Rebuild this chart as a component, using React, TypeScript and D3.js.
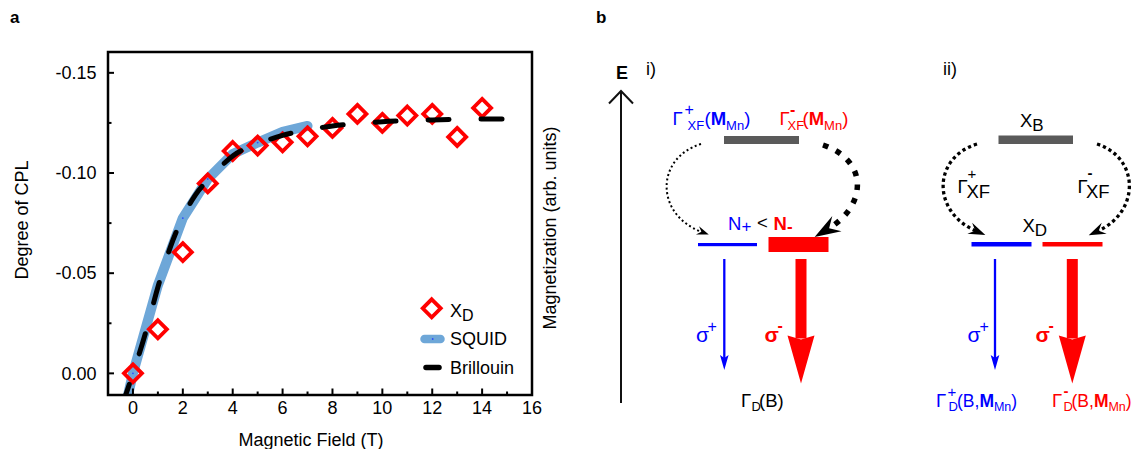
import React from 'react';
import * as d3 from 'd3';

// ---- panel a data ----
const fieldTicks = [0, 2, 4, 6, 8, 10, 12, 14, 16];
const fieldMinor = [1, 3, 5, 7, 9, 11, 13, 15];
const cplTicks = [-0.15, -0.1, -0.05, 0];
const cplMinor = [-0.125, -0.075, -0.025];

const xdField = [0, 1, 2, 3, 4, 5, 6, 7, 8, 9, 10, 11, 12, 13, 14];
const xdCpl = [0.0, -0.022, -0.0605, -0.0948, -0.111, -0.1137, -0.1153, -0.1183, -0.1225, -0.1295, -0.125, -0.1287, -0.1295, -0.118, -0.1325];

const squidField = [-0.5, 0, 1, 2, 3, 4, 5, 6, 7];
const squidCpl = [0.0275, 0.0, -0.044, -0.0775, -0.097, -0.1095, -0.1152, -0.1205, -0.1235];

const brillouinField = [-0.35, 0, 0.5, 1, 1.5, 2, 2.5, 3, 3.5, 4, 5, 6, 7, 8, 9, 10, 11, 12, 13, 14, 15];
const brillouinCpl = [0.013, 0.0, -0.02, -0.043, -0.063, -0.078, -0.089, -0.0965, -0.103, -0.1085, -0.1145, -0.1188, -0.1215, -0.1235, -0.1247, -0.1256, -0.1261, -0.1265, -0.1268, -0.127, -0.127];

const FONT = 'Liberation Sans, Arial, Helvetica, sans-serif';
const BLUE = '#0000ff';
const RED = '#ff0000';
const SQUID_COLOR = '#6ea7d8';

type Pt = [number, number];

// dotted curved arrow with a barbed head
function curveArrow(p0: Pt, p1: Pt, p2: Pt, p3: Pt, headLen: number, headHalf: number) {
  const p = d3.path();
  p.moveTo(p0[0], p0[1]);
  p.bezierCurveTo(p1[0], p1[1], p2[0], p2[1], p3[0], p3[1]);
  const dx = p3[0] - p2[0], dy = p3[1] - p2[1];
  const len = Math.hypot(dx, dy);
  const ux = dx / len, uy = dy / len, nx = -uy, ny = ux;
  const tip: Pt = [p3[0] + ux * headLen * 0.6, p3[1] + uy * headLen * 0.6];
  const bx = tip[0] - ux * headLen, by = tip[1] - uy * headLen;
  const notch: Pt = [tip[0] - ux * headLen * 0.65, tip[1] - uy * headLen * 0.65];
  const head = [tip, [bx + nx * headHalf, by + ny * headHalf], notch, [bx - nx * headHalf, by - ny * headHalf]]
    .map(q => q.join(',')).join(' ');
  return { d: p.toString(), head };
}

function DownArrow({ x, y0, y1, color, fat }: { x: number; y0: number; y1: number; color: string; fat: boolean }) {
  if (!fat) {
    return (
      <g>
        <line x1={x} x2={x} y1={y0} y2={y1 - 12} stroke={color} strokeWidth={2.3} />
        <polygon points={`${x},${y1} ${x - 4.3},${y1 - 15} ${x},${y1 - 12} ${x + 4.3},${y1 - 15}`} fill={color} />
      </g>
    );
  }
  const hb = y1 - 48;
  return (
    <g>
      <rect x={x - 5.5} y={y0} width={11} height={hb - y0 + 3} fill={color} />
      <polygon points={`${x},${y1} ${x - 13.5},${hb} ${x},${hb + 4} ${x + 13.5},${hb}`} fill={color} />
    </g>
  );
}

const fmtTick = (t: number) => d3.format('.2f')(t).replace('−', '-');

function PanelA() {
  const left = 108, right = 532, top = 52, bottom = 395;
  const x = d3.scaleLinear().domain([-1, 16]).range([left, right]);
  const y = d3.scaleLinear().domain([0.0108, -0.1604]).range([bottom, top]);

  const squid = squidField.map((f, i) => [f, squidCpl[i]] as Pt);
  const brill = brillouinField.map((f, i) => [f, brillouinCpl[i]] as Pt);
  const xd = xdField.map((f, i) => [f, xdCpl[i]] as Pt);

  const squidLine = d3.line<Pt>().x(d => x(d[0])).y(d => y(d[1]));
  const brillLine = d3.line<Pt>().x(d => x(d[0])).y(d => y(d[1])).curve(d3.curveMonotoneX);
  const dia = (cx: number, cy: number, r: number) => `M${cx},${cy - r}L${cx + r},${cy}L${cx},${cy + r}L${cx - r},${cy}Z`;

  return (
    <g fontFamily={FONT}>
      <defs>
        <clipPath id="plotClip">
          <rect x={left} y={top} width={right - left} height={bottom - top} />
        </clipPath>
      </defs>
      <text x={10} y={23} fontSize={17} fontWeight="bold">a</text>

      <g clipPath="url(#plotClip)">
        <path d={squidLine(squid) ?? ''} fill="none" stroke={SQUID_COLOR} strokeWidth={10} strokeLinecap="round" strokeLinejoin="round" />
        {squid.map((d, i) => (
          <circle key={i} cx={x(d[0])} cy={y(d[1])} r={0.9} fill="#2a4cff" />
        ))}
        {xd.map((d, i) => (
          <path key={i} d={dia(x(d[0]), y(d[1]), 9)} fill="none" stroke={RED} strokeWidth={3.8} />
        ))}
        <path d={brillLine(brill) ?? ''} fill="none" stroke="#000" strokeWidth={5} strokeLinecap="round"
          strokeDasharray="21 32" strokeDashoffset={5} />
      </g>

      {/* frame */}
      <rect x={left} y={top} width={right - left} height={bottom - top} fill="none" stroke="#000" strokeWidth={2.5} />

      {/* x ticks (inward) */}
      {fieldTicks.map(t => (
        <g key={t}>
          <line x1={x(t)} x2={x(t)} y1={bottom} y2={bottom - 6.5} stroke="#000" strokeWidth={2} />
          <text x={x(t)} y={414} fontSize={18} textAnchor="middle">{t}</text>
        </g>
      ))}
      {fieldMinor.map(t => (
        <line key={t} x1={x(t)} x2={x(t)} y1={bottom} y2={bottom - 3.5} stroke="#000" strokeWidth={2} />
      ))}

      {/* y ticks (inward) */}
      {cplTicks.map(t => (
        <g key={t}>
          <line x1={left} x2={left + 6} y1={y(t)} y2={y(t)} stroke="#000" strokeWidth={2} />
          <text x={96.5} y={y(t) + 6.3} fontSize={18} textAnchor="end">{fmtTick(t)}</text>
        </g>
      ))}
      {cplMinor.map(t => (
        <line key={t} x1={left} x2={left + 3.5} y1={y(t)} y2={y(t)} stroke="#000" strokeWidth={2} />
      ))}

      <text transform="translate(28,220) rotate(-90)" fontSize={18} textAnchor="middle">Degree of CPL</text>
      <text x={311} y={446} fontSize={18} textAnchor="middle">Magnetic Field (T)</text>
      <text transform="translate(556,228) rotate(-90)" fontSize={18} textAnchor="middle">Magnetization (arb. units)</text>

      {/* legend */}
      <path d={dia(431.7, 308.3, 9)} fill="none" stroke={RED} strokeWidth={3.8} />
      <text x={450} y={316.5} fontSize={18}>X<tspan fontSize={16} dy={4}>D</tspan></text>
      <line x1={424.5} x2={440.5} y1={339} y2={339} stroke={SQUID_COLOR} strokeWidth={8.5} strokeLinecap="round" />
      <circle cx={432.7} cy={339} r={0.9} fill="#2a4cff" />
      <text x={450} y={345} fontSize={18}>SQUID</text>
      <line x1={426} x2={439} y1={367.5} y2={367.5} stroke="#000" strokeWidth={5.5} strokeLinecap="round" />
      <text x={450} y={373.5} fontSize={18}>Brillouin</text>
    </g>
  );
}

function PanelB() {
  const l1 = curveArrow([701, 144], [655, 158], [655, 215], [702, 232], 12, 4.5);
  const r1 = curveArrow([823, 145], [868, 160], [868, 205], [828, 229], 26, 9);
  const l2 = curveArrow([977, 144], [932, 158], [932, 212], [976, 231], 17, 6);
  const r2 = curveArrow([1097, 144], [1140, 158], [1140, 212], [1098, 231], 17, 6);

  return (
    <g fontFamily={FONT}>
      <text x={596} y={23} fontSize={17} fontWeight="bold">b</text>

      {/* energy axis */}
      <text x={616} y={79} fontSize={18} fontWeight="bold">E</text>
      <line x1={621} x2={621} y1={403} y2={91} stroke="#111" strokeWidth={2} />
      <polyline points="609,103.5 621,91 633,103.5" fill="none" stroke="#111" strokeWidth={2} />

      {/* ---- i) ---- */}
      <text x={646} y={75} fontSize={18}>i)</text>
      <rect x={724} y={136} width={75} height={8} fill="#5a5a5a" />
      <g fill={BLUE}>
        <text x={672.5} y={125} fontSize={18.5}>Γ</text>
        <text x={684.5} y={115} fontSize={16}>+</text>
        <text x={687.5} y={130} fontSize={13}>XF</text>
        <text x={704.5} y={125} fontSize={18.5}>(<tspan fontWeight="bold">M</tspan><tspan fontSize={13} dy={4.5}>Mn</tspan><tspan dy={-4.5}>)</tspan></text>
      </g>
      <g fill={RED}>
        <text x={779.5} y={125} fontSize={18.5}>Γ</text>
        <text x={790} y={115} fontSize={16} fontWeight="bold">-</text>
        <text x={787.5} y={130} fontSize={13}>XF</text>
        <text x={802.5} y={125} fontSize={18.5}>(<tspan fontWeight="bold">M</tspan><tspan fontSize={13} dy={4.5}>Mn</tspan><tspan dy={-4.5}>)</tspan></text>
      </g>

      <path d={l1.d} fill="none" stroke="#000" strokeWidth={2} strokeDasharray="2 2.6" />
      <polygon points={l1.head} fill="#000" />
      <path d={r1.d} fill="none" stroke="#000" strokeWidth={5.5} strokeDasharray="5.5 8.5" />
      <polygon points={r1.head} fill="#000" />

      <text x={728} y={230} fontSize={18.5} fill={BLUE}>N<tspan fontSize={17} dy={2}>+</tspan></text>
      <text x={757} y={229} fontSize={18.5} fill="#000">&lt;</text>
      <text x={773.5} y={230} fontSize={18.5} fill={RED} fontWeight="bold">N<tspan fontSize={17} dy={2}>-</tspan></text>

      <rect x={698} y={243} width={59} height={3.2} fill={BLUE} />
      <rect x={768.5} y={237} width={60} height={15} fill={RED} />

      <DownArrow x={724.3} y0={259} y1={370} color={BLUE} fat={false} />
      <DownArrow x={801} y0={259} y1={383.5} color={RED} fat={true} />

      <text x={696} y={341.5} fontSize={21} fill={BLUE}>σ</text>
      <text x={707.5} y={332} fontSize={16} fill={BLUE}>+</text>
      <text x={764.5} y={341.5} fontSize={21} fill={RED} fontWeight="bold">σ</text>
      <text x={777.5} y={331} fontSize={16} fill={RED} fontWeight="bold">-</text>

      <text x={741} y={406.5} fontSize={18.5}>Γ</text>
      <text x={751.5} y={410.5} fontSize={13}>D</text>
      <text x={759} y={406.5} fontSize={18.5}>(B)</text>

      {/* ---- ii) ---- */}
      <text x={943} y={75} fontSize={18}>ii)</text>
      <text x={1020} y={126.5} fontSize={18.5}>X<tspan fontSize={17} dy={4}>B</tspan></text>
      <rect x={998.5} y={135.5} width={74.5} height={8.5} fill="#5a5a5a" />

      <path d={l2.d} fill="none" stroke="#000" strokeWidth={3.3} strokeDasharray="3.3 3" />
      <polygon points={l2.head} fill="#000" />
      <path d={r2.d} fill="none" stroke="#000" strokeWidth={3.3} strokeDasharray="3.3 3" />
      <polygon points={r2.head} fill="#000" />

      <text x={957.5} y={193} fontSize={18.5}>Γ</text>
      <text x={967.5} y={179} fontSize={15}>+</text>
      <text x={966.5} y={198} fontSize={18.5}>XF</text>
      <text x={1077.5} y={193} fontSize={18.5}>Γ</text>
      <text x={1087.5} y={178} fontSize={15} fontWeight="bold">-</text>
      <text x={1086} y={198} fontSize={18.5}>XF</text>

      <text x={1022.5} y={231.5} fontSize={18.5}>X<tspan fontSize={17} dy={4.5}>D</tspan></text>
      <rect x={971.5} y={242} width={60} height={4.5} fill={BLUE} />
      <rect x={1042.5} y={242} width={60} height={4.5} fill={RED} />

      <DownArrow x={995} y0={259} y1={370} color={BLUE} fat={false} />
      <DownArrow x={1072.3} y0={259} y1={383.5} color={RED} fat={true} />

      <text x={967.5} y={341.5} fontSize={21} fill={BLUE}>σ</text>
      <text x={979.5} y={332} fontSize={16} fill={BLUE}>+</text>
      <text x={1035.5} y={341.5} fontSize={21} fill={RED} fontWeight="bold">σ</text>
      <text x={1048.5} y={331} fontSize={16} fill={RED} fontWeight="bold">-</text>

      <g fill={BLUE}>
        <text x={936} y={406.5} fontSize={18.5}>Γ</text>
        <text x={947.5} y={397} fontSize={15}>+</text>
        <text x={948.5} y={411} fontSize={13}>D</text>
        <text x={957} y={406.5} fontSize={17.5}>(B,<tspan fontWeight="bold">M</tspan><tspan fontSize={12.5} dy={4.5}>Mn</tspan><tspan dy={-4.5}>)</tspan></text>
      </g>
      <g fill={RED}>
        <text x={1052} y={406.5} fontSize={18.5}>Γ</text>
        <text x={1063.5} y={396} fontSize={15} fontWeight="bold">-</text>
        <text x={1063.5} y={411} fontSize={13}>D</text>
        <text x={1071.5} y={406.5} fontSize={17.5}>(B,<tspan fontWeight="bold">M</tspan><tspan fontSize={12.5} dy={4.5}>Mn</tspan><tspan dy={-4.5}>)</tspan></text>
      </g>
    </g>
  );
}

export default function App() {
  return (
    <svg width={1131} height={449} viewBox="0 0 1131 449"
      style={{ position: 'absolute', left: 0, top: 0, display: 'block', background: '#fff' }}>
      <PanelA />
      <PanelB />
    </svg>
  );
}
